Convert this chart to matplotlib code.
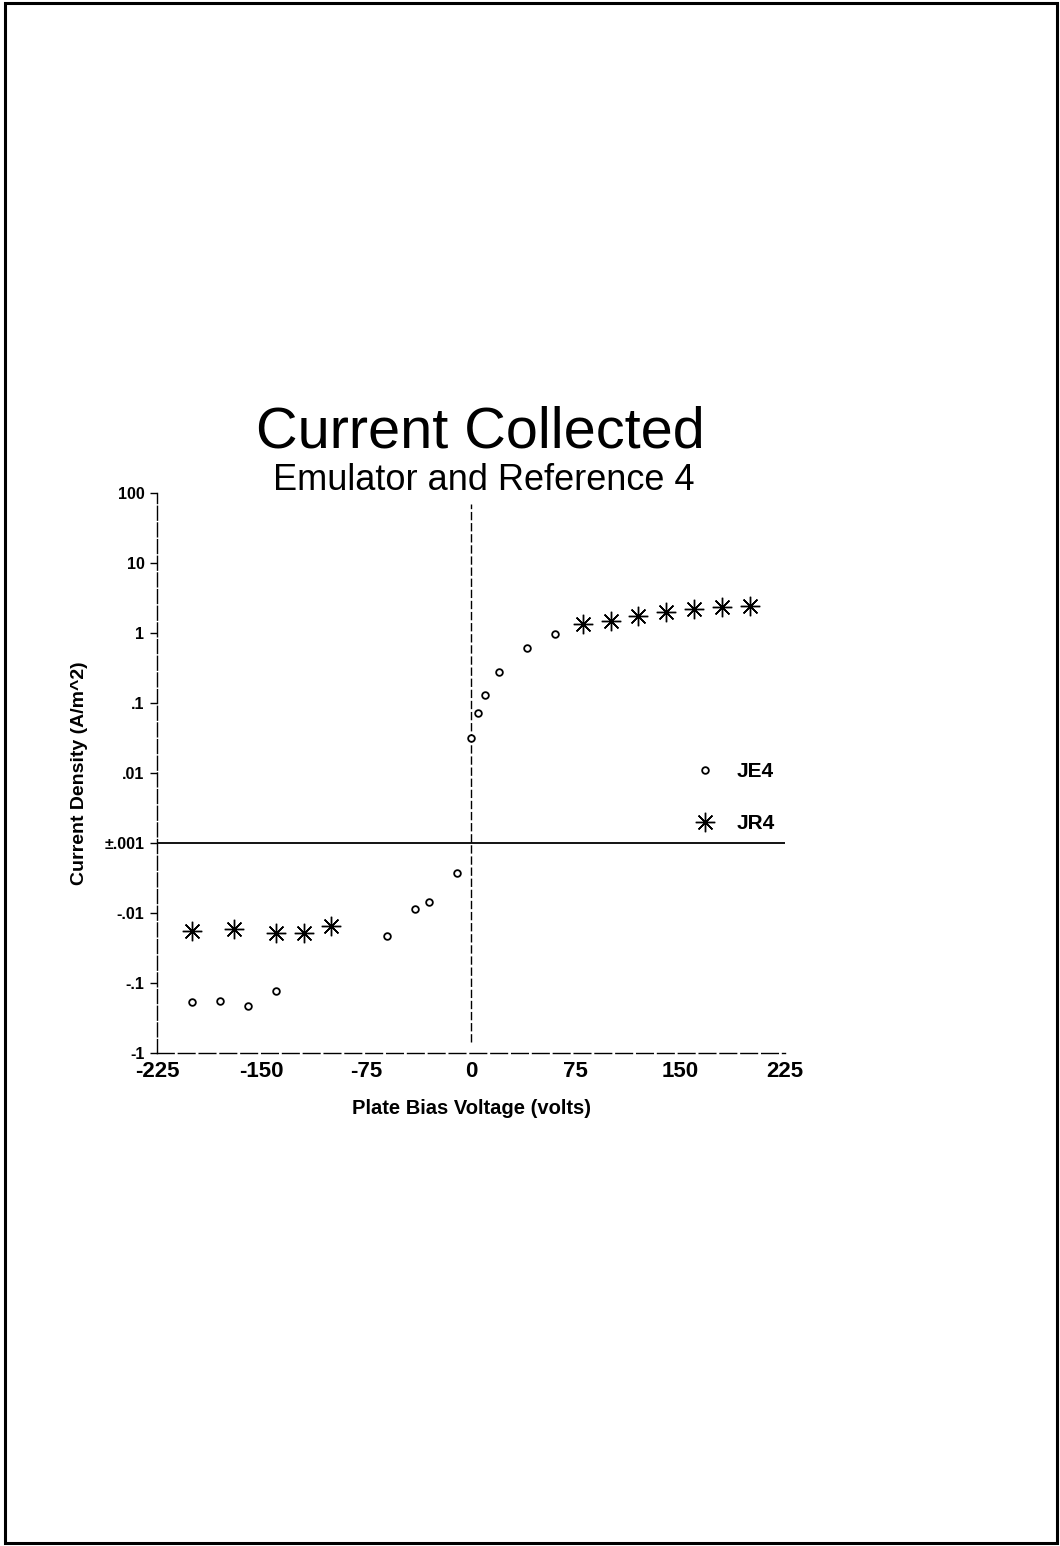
import numpy as np
import matplotlib
matplotlib.use("Agg")
import matplotlib.pyplot as plt
from matplotlib.patches import Rectangle

plt.rcParams['font.family'] = ['Liberation Sans', 'DejaVu Sans']

# JE4 (emulator) - circles
je4_volts = [-200, -180, -160, -140, -60, -40, -30, -10, 0, 5, 10, 20, 40, 60]
je4_density = [-0.187, -0.18, -0.21, -0.128, -0.021, -0.0089, -0.0069, -0.0027,
               0.032, 0.072, 0.13, 0.28, 0.61, 0.96]

# JR4 (reference 4) - asterisks
jr4_volts = [-200, -170, -140, -120, -100, 80, 100, 120, 140, 160, 180, 200]
jr4_density = [-0.0182, -0.0169, -0.0192, -0.0194, -0.0151,
               1.33, 1.48, 1.73, 1.97, 2.18, 2.34, 2.43]

x_ticks = [-225, -150, -75, 0, 75, 150, 225]
y_ticks = [100, 10, 1, 0.1, 0.01, 0, -0.01, -0.1, -1]
y_tick_labels = ['100', '10', '1', '.1', '.01', '\u00b1.001', '-.01', '-.1', '-1']


# log scale mirrored around +/- .001 (no linear region)
def fwd(v):
    v = np.asarray(v, dtype=float)
    with np.errstate(divide='ignore', invalid='ignore'):
        mag = np.log10(np.maximum(np.abs(v), 1e-12)) + 3
    return np.sign(v) * np.clip(mag, 0, None)


def inv(y):
    y = np.asarray(y, dtype=float)
    return np.sign(y) * 10 ** (np.abs(y) - 3)


fig = plt.figure(figsize=(10.6, 15.46), dpi=100)
fig.patches.append(Rectangle((5 / 1060, 3 / 1546), 1052 / 1060, 1540 / 1546,
                             transform=fig.transFigure, fill=False,
                             edgecolor='black', linewidth=2.2))

ax = fig.add_axes([157 / 1060, 1 - 1053 / 1546, 628 / 1060, 560 / 1546])
ax.set_yscale('function', functions=(fwd, inv))
ax.set_xlim(-225, 225)
ax.set_ylim(-1, 100)

ax.axhline(0, color='black', linewidth=1.3)
ax.axvline(0, ymin=0.02, ymax=0.98, color='black', linewidth=1.0,
           linestyle=(0, (6, 2)))

ax.plot(je4_volts, je4_density, linestyle='none', marker='o', markersize=4.8,
        markerfacecolor='white', markeredgecolor='black', markeredgewidth=1.3,
        label='JE4')
ax.plot(jr4_volts, jr4_density, linestyle='none', marker=(8, 2, 0),
        markersize=14, markeredgecolor='black', markeredgewidth=1.0,
        label='JR4')

for side in ['top', 'right']:
    ax.spines[side].set_visible(False)
ax.spines['left'].set_linestyle((0, (10, 2)))
ax.spines['bottom'].set_linestyle((0, (12, 3)))
ax.spines['left'].set_linewidth(1.0)
ax.spines['bottom'].set_linewidth(1.0)

ax.set_xticks(x_ticks)
ax.set_xticklabels([str(t) for t in x_ticks], fontsize=16, fontweight='bold')
ax.tick_params(axis='x', length=0, pad=6)
ax.set_yticks(y_ticks)
ax.set_yticklabels(y_tick_labels, fontsize=11.5, fontweight='bold')
ax.tick_params(axis='y', length=5, width=1.0, pad=4)
ax.minorticks_off()

ax.set_xlabel('Plate Bias Voltage (volts)', fontsize=14.5, fontweight='bold',
              labelpad=12)
ax.set_ylabel('Current Density (A/m^2)', fontsize=14, fontweight='bold',
              labelpad=12)

fig.text(480 / 1060, 1 - 433 / 1546, 'Current Collected', fontsize=41.5,
         ha='center', va='center')
fig.text(484 / 1060, 1 - 481 / 1546, 'Emulator and Reference 4', fontsize=26,
         ha='center', va='center')

ax.legend(loc='upper left', bbox_to_anchor=(0.84, 0.538), frameon=False,
          prop={'size': 15, 'weight': 'bold'}, handlelength=1.0,
          handletextpad=1.0, labelspacing=1.6, borderpad=0)

fig.savefig('out.png', dpi=100)
